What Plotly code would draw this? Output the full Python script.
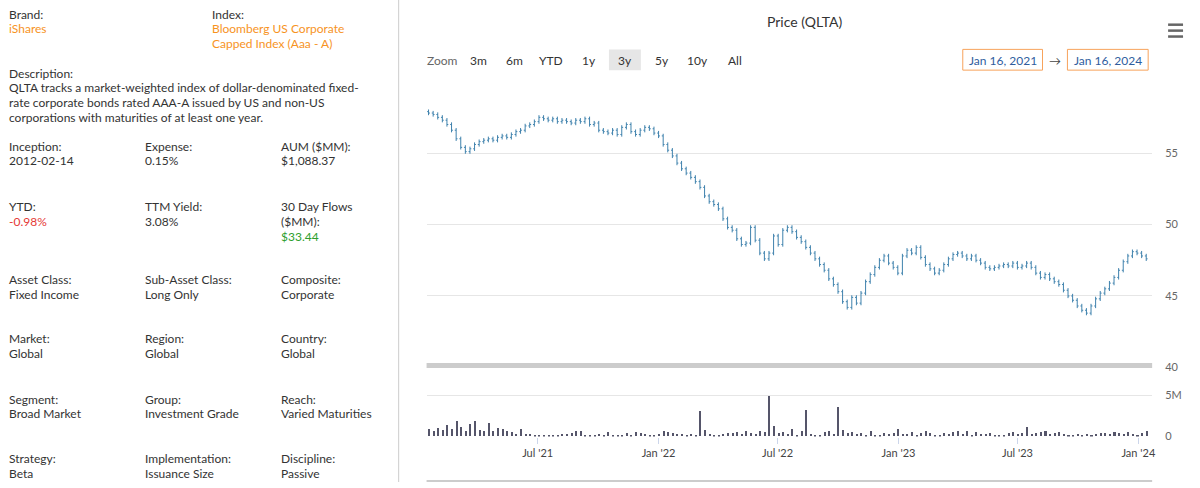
import plotly.graph_objects as go
import pandas as pd

start = "2021-01-16"
closes = [57.8,57.7,57.5,57.3,57.0,56.6,56.0,55.4,55.1,55.3,55.6,55.8,55.9,
 56.0,55.9,56.1,56.2,56.1,56.3,56.5,56.6,56.9,57.0,57.2,57.5,57.4,
 57.3,57.4,57.2,57.3,57.2,57.1,57.3,57.2,57.4,57.0,57.1,56.6,56.5,
 56.4,56.6,56.3,56.8,57.0,56.5,56.3,56.6,56.8,56.7,56.4,56.2,55.6,
 55.2,54.8,54.3,53.9,53.6,53.3,53.0,52.6,52.0,51.6,51.4,51.1,50.4,
 49.8,49.6,49.0,48.6,48.7,49.8,48.9,48.0,47.6,48.0,49.2,48.6,49.6,
 49.8,49.5,49.1,48.8,48.4,48.0,47.6,47.2,46.8,46.2,45.8,45.3,44.6,
 44.2,44.9,44.5,45.2,46.0,46.5,47.0,47.5,47.8,47.3,47.0,46.6,47.8,
 48.2,48.0,48.4,47.7,47.2,46.9,46.6,46.8,47.2,47.6,47.9,48.0,47.8,
 47.6,47.8,47.5,47.3,47.0,46.9,47.0,47.1,47.2,47.1,47.3,47.0,47.1,
 47.3,47.0,46.6,46.3,46.5,46.2,46.0,45.8,45.4,45.0,44.7,44.3,44.0,
 43.8,44.3,44.8,45.2,45.5,45.9,46.3,46.8,47.4,47.8,48.1,48.0,47.8,47.6]
opens = [57.9] + closes[:-1]
volume_m = [0.9,0.7,1.0,0.8,1.4,0.9,1.8,1.1,0.6,1.5,1.9,0.8,0.7,
 1.6,0.6,1.0,0.9,0.7,0.5,0.3,0.9,0.3,0.3,0.2,0.2,0.1,
 0.1,0.1,0.2,0.3,0.3,0.4,0.6,0.7,0.2,0.2,0.1,0.3,0.2,
 0.5,0.2,0.2,0.1,0.4,0.2,0.5,0.4,0.3,0.1,0.2,0.3,0.6,
 0.5,0.4,0.3,0.3,0.2,0.3,0.1,3.1,0.8,0.3,0.2,0.2,0.3,
 0.4,0.4,0.5,0.3,0.6,0.4,0.3,0.7,0.5,4.9,1.3,0.4,0.5,
 0.3,0.9,0.2,0.6,3.2,0.3,0.2,0.1,0.5,0.6,0.3,3.6,0.8,
 0.4,0.5,0.3,0.4,0.2,0.6,0.2,0.2,0.4,0.3,0.4,0.9,0.3,
 0.3,0.5,0.2,0.4,0.6,0.4,0.2,0.1,0.4,0.3,0.5,0.6,0.3,
 0.6,0.2,0.5,0.3,0.3,0.4,0.2,0.2,0.1,0.4,0.5,0.3,0.4,
 1.1,0.3,0.4,0.5,0.6,0.3,0.4,0.5,0.3,0.2,0.2,0.3,0.2,
 0.3,0.2,0.3,0.4,0.4,0.3,0.5,0.4,0.3,0.5,0.3,0.2,0.4,0.7]
dates = pd.date_range(start, periods=len(closes), freq="7D")
highs = [max(o, c) + 0.15 for o, c in zip(opens, closes)]
lows = [min(o, c) - 0.15 for o, c in zip(opens, closes)]
xtick_vals = ["2021-07-01","2022-01-01","2022-07-01","2023-01-01","2023-07-01","2024-01-01"]
xtick_text = ["Jul '21","Jan '22","Jul '22","Jan '23","Jul '23","Jan '24"]

FONT = "Lato"
fig = go.Figure()
fig.add_trace(go.Ohlc(x=dates, open=opens, high=highs, low=lows, close=closes,
    increasing_line_color="#3f82ad", decreasing_line_color="#3f82ad",
    line_width=1, xaxis="x", yaxis="y", showlegend=False))
fig.add_trace(go.Bar(x=dates, y=[v*1e6 for v in volume_m], marker_color="#55556a",
    marker_line_width=0, width=3.2*86400000, xaxis="x2", yaxis="y2", showlegend=False))

W, H = 1200, 488
px = lambda v: v / W
py = lambda v: 1 - v / H
xr = ["2021-01-13", "2024-01-22"]
fig.update_layout(
    width=W, height=H, margin=dict(l=0, r=0, t=0, b=0),
    paper_bgcolor="white", plot_bgcolor="white",
    font=dict(family=FONT, size=12, color="#333"),
    xaxis=dict(domain=[px(428), px(1156)], range=xr, showticklabels=False,
               showgrid=False, rangeslider_visible=False, anchor="y"),
    yaxis=dict(domain=[py(372), py(100)], range=[40, 58.8], side="right",
               tickvals=[40,45,50,55], gridcolor="#e6e6e6", zeroline=False,
               tickfont=dict(color="#666", size=11), anchor="x", ticklabelstandoff=12),
    xaxis2=dict(domain=[px(428), px(1156)], range=xr, tickvals=xtick_vals,
                ticktext=xtick_text, showgrid=False, anchor="y2",
                ticks="outside", ticklen=6, tickcolor="#ccd6eb",
                tickfont=dict(color="#444", size=11)),
    yaxis2=dict(domain=[py(442), py(392)], range=[0, 5.95e6], side="right",
                tickvals=[0, 5e6], ticktext=["0", "5M"], gridcolor="#e6e6e6",
                zeroline=False, tickfont=dict(color="#666", size=11), anchor="x2",
                ticklabelstandoff=12),
    bargap=0,
)
shapes = [
    dict(type="line", xref="paper", yref="paper", x0=px(400), x1=px(400), y0=0, y1=1,
         line=dict(color="#ccc", width=1)),
    dict(type="line", xref="paper", yref="paper", x0=px(428), x1=px(1156), y0=py(370), y1=py(370),
         line=dict(color="#cccccc", width=5)),
    dict(type="line", xref="paper", yref="paper", x0=px(428), x1=px(1156), y0=py(487), y1=py(487),
         line=dict(color="#cccccc", width=2)),
]
for yy in (25, 31, 37):
    shapes.append(dict(type="line", xref="paper", yref="paper", x0=px(1172), x1=px(1187),
                       y0=py(yy), y1=py(yy), line=dict(color="#666", width=2.5)))
shapes.append(dict(type="rect", xref="paper", yref="paper", x0=px(611), x1=px(643),
                   y0=py(71), y1=py(50), fillcolor="#e6e6e6", line_width=0))
for x0, x1 in ((966, 1046), (1071, 1152)):
    shapes.append(dict(type="rect", xref="paper", yref="paper", x0=px(x0), x1=px(x1),
                       y0=py(71), y1=py(50), line=dict(color="#f7a35c", width=1)))
fig.update_layout(shapes=shapes)

ann = []
def t(x, y, s, color="#333", size=12, anchor="left"):
    ann.append(dict(x=px(x), y=py(y), xref="paper", yref="paper", text=s, showarrow=False,
                    xanchor=anchor, yanchor="middle",
                    font=dict(color=color, size=size, family=FONT)))
ORG = "#f7931e"
t(7, 15, "Brand:"); t(7, 29, "iShares", ORG)
t(211, 15, "Index:"); t(211, 29, "Bloomberg US Corporate", ORG); t(211, 44, "Capped Index (Aaa - A)", ORG)
t(7, 74, "Description:")
t(7, 89, "QLTA tracks a market-weighted index of dollar-denominated fixed-")
t(7, 104, "rate corporate bonds rated AAA-A issued by US and non-US")
t(7, 119, "corporations with maturities of at least one year.")
rows = [
    (148, [("Inception:", "2012-02-14", "#333"), ("Expense:", "0.15%", "#333"), ("AUM ($MM):", "$1,088.37", "#333")]),
    (283, [("Asset Class:", "Fixed Income", "#333"), ("Sub-Asset Class:", "Long Only", "#333"), ("Composite:", "Corporate", "#333")]),
    (343, [("Market:", "Global", "#333"), ("Region:", "Global", "#333"), ("Country:", "Global", "#333")]),
    (404, [("Segment:", "Broad Market", "#333"), ("Group:", "Investment Grade", "#333"), ("Reach:", "Varied Maturities", "#333")]),
    (464, [("Strategy:", "Beta", "#333"), ("Implementation:", "Issuance Size", "#333"), ("Discipline:", "Passive", "#333")]),
]
for y, cells in rows:
    for xx, (lab, val, col) in zip((7, 143, 280), cells):
        t(xx, y, lab); t(xx, y + 15, val, col)
t(7, 209, "YTD:"); t(7, 224, "-0.98%", "#e53935")
t(143, 209, "TTM Yield:"); t(143, 224, "3.08%")
t(280, 209, "30 Day Flows"); t(280, 224, "($MM):"); t(280, 239, "$33.44", "#2e9e2e")

t(808, 22, "Price (QLTA)", "#333", 14, "center")
t(426, 61, "Zoom", "#666", 12)
for x, s in ((480, "3m"), (516, "6m"), (553, "YTD"), (591, "1y"), (627, "3y"), (664, "5y"), (700, "10y"), (737, "All")):
    t(x, 61, s, "#333", 12, "center")
t(1006, 61, "Jan 16, 2021", "#2f5d9e", 12, "center")
t(1059, 61, "→", "#444", 12, "center")
t(1112, 61, "Jan 16, 2024", "#2f5d9e", 12, "center")
fig.update_layout(annotations=ann)

html = fig.to_html(full_html=True, include_plotlyjs=True, config={"displayModeBar": False})
html = html.replace("<body>", '<body style="margin:0;padding:0;overflow:hidden">', 1)
with open("out.html", "w", encoding="utf-8") as f:
    f.write(html)
